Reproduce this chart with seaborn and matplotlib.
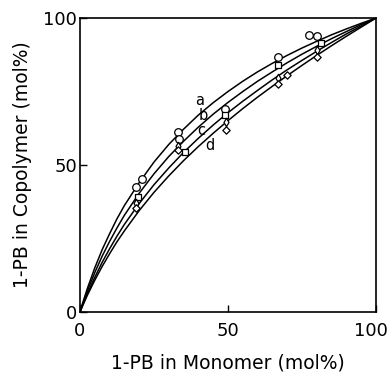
import matplotlib
matplotlib.use("Agg")
import matplotlib.pyplot as plt
import matplotlib.transforms as mtransforms
import seaborn as sns
import pandas as pd

# Fitted curves
curve_x = [0, 1, 2.5, 5, 7.5, 10, 12.5, 15, 20, 25, 30, 35, 40, 45, 50,
           55, 60, 65, 70, 75, 80, 85, 90, 95, 100]
curve_a = [0, 3.3, 8.0, 15.0, 21.2, 26.6, 31.7, 36.2, 44.0, 51.0, 57.0, 62.2, 67.0, 71.2, 75.0,
           78.5, 81.7, 84.6, 87.3, 89.8, 92.1, 94.3, 96.3, 98.2, 100]
curve_b = [0, 3.0, 7.1, 13.4, 19.0, 24.0, 28.6, 32.9, 40.4, 47.0, 52.9, 58.1, 62.9, 67.3, 71.3,
           75.0, 78.5, 81.7, 84.8, 87.7, 90.4, 93.0, 95.4, 97.8, 100]
curve_c = [0, 2.6, 6.2, 11.8, 16.9, 21.5, 25.8, 29.8, 36.9, 43.3, 49.0, 54.3, 59.1, 63.6, 67.8,
           71.7, 75.4, 79.0, 82.4, 85.6, 88.7, 91.7, 94.6, 97.3, 100]
curve_d = [0, 2.3, 5.7, 10.8, 15.5, 19.8, 23.9, 27.6, 34.5, 40.7, 46.3, 51.5, 56.3, 60.8, 65.1,
           69.2, 73.1, 76.8, 80.4, 83.9, 87.3, 90.6, 93.8, 96.9, 100]

# Measured points
pts_a_x = [19, 21, 33, 33.3, 49, 67, 77.5, 80]
pts_a_y = [42.6, 45.2, 61.1, 59.0, 69.2, 86.8, 94.3, 93.9]
pts_b_x = [19.5, 35.5, 49, 67, 81.5]
pts_b_y = [39.2, 54.5, 67.0, 84.0, 91.4]
pts_c_x = [19, 33, 49.5, 67, 80]
pts_c_y = [37.0, 56.5, 64.5, 79.5, 89.0]
pts_d_x = [19, 33, 49.5, 67, 70, 80]
pts_d_y = [35.5, 55.0, 62.0, 77.5, 80.6, 86.8]

labels = ["a", "b", "c", "d"]
label_x = [40.5, 41.7, 41.1, 43.9]
label_y = [72.0, 66.8, 61.6, 56.8]

xticks = [0, 50, 100]
yticks = [0, 50, 100]

sns.set_theme(style="ticks")
plt.rcParams['font.family'] = ['DejaVu Sans']

fig = plt.figure(figsize=(3.88, 3.76), dpi=100)
ax = fig.add_axes([0.206, 0.170, 0.763, 0.782])

for cy in [curve_a, curve_b, curve_c, curve_d]:
    df = pd.DataFrame({"x": curve_x, "y": cy})
    sns.lineplot(data=df, x="x", y="y", ax=ax, color="black", linewidth=1.1,
                 estimator=None, sort=True)

marker_specs = [
    (pts_a_x, pts_a_y, "o", 30),
    (pts_b_x, pts_b_y, "s", 22),
    (pts_c_x, pts_c_y, "d", 18),
    (pts_d_x, pts_d_y, "D", 14),
]
for px, py, m, s in marker_specs:
    df = pd.DataFrame({"x": px, "y": py})
    sns.scatterplot(data=df, x="x", y="y", ax=ax, marker=m, s=s,
                    facecolor="white", edgecolor="black", linewidth=0.9, zorder=3)

for t, lx, ly in zip(labels, label_x, label_y):
    ax.text(lx, ly, t, fontsize=10.5, ha="center", va="center", color="black")

ax.set_xlim(0, 100)
ax.set_ylim(0, 100)
ax.set_xticks(xticks)
ax.set_yticks(yticks)
ax.set_xticklabels([str(v) for v in xticks])
ax.set_yticklabels([str(v) for v in yticks])
ax.tick_params(direction="in", length=5, width=1, colors="black", labelsize=13)
ax.tick_params(axis="x", pad=7)
ax.tick_params(axis="y", pad=2)
# nudge the right-most x tick label slightly left, like the reference
lbls = ax.get_xticklabels()
lbls[-1].set_transform(lbls[-1].get_transform() +
                       mtransforms.ScaledTranslation(-5 / 100, 0, fig.dpi_scale_trans))
ax.set_xlabel("1-PB in Monomer (mol%)", fontsize=13.5, labelpad=10, color="black")
ax.set_ylabel("1-PB in Copolymer (mol%)", fontsize=13.5, labelpad=8, color="black")
for sp in ax.spines.values():
    sp.set_visible(True)
    sp.set_color("black")
    sp.set_linewidth(1.2)

fig.savefig("out.png", dpi=100)
